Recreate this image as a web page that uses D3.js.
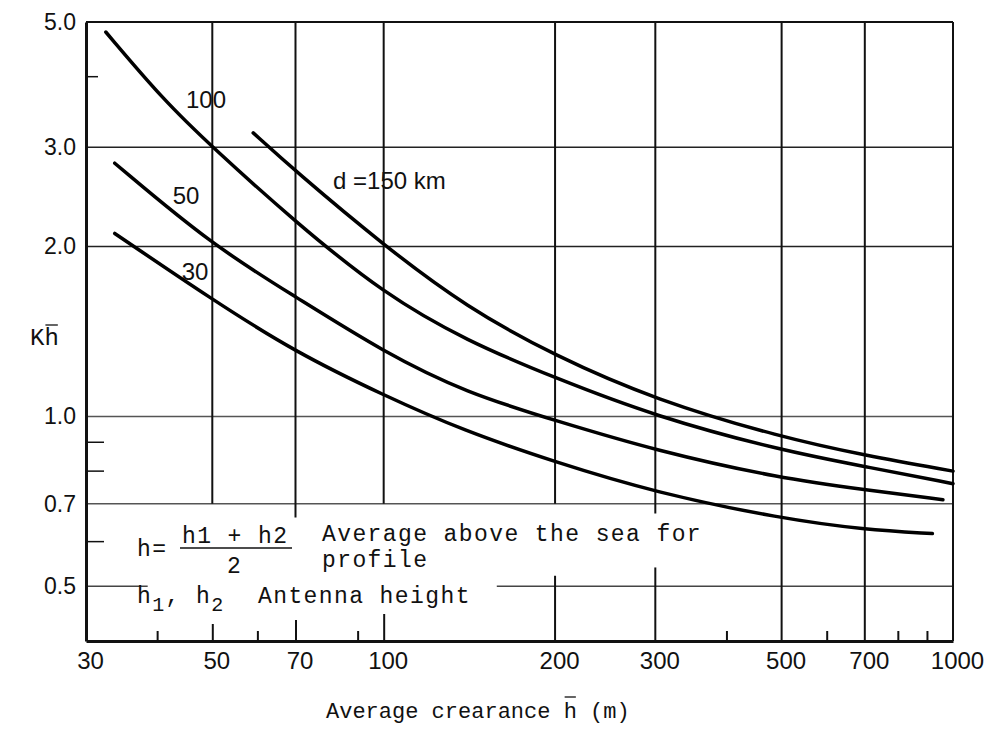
<!DOCTYPE html>
<html>
<head>
<meta charset="utf-8">
<script src="https://cdn.jsdelivr.net/npm/d3@7"></script>
<style>
  body { margin: 0; background: #fff; }
  .mono { font-family: "Liberation Mono", "Courier New", monospace; fill: #111; }
  .sans { font-family: "Liberation Sans", Arial, sans-serif; fill: #111; }
</style>
</head>
<body>
<div id="chart"></div>
<script>
// distance curves d = 30, 50, 100, 150 km : [clearance m, K]
const curve30 = [[33.7, 2.11], [50, 1.61], [70, 1.30], [100, 1.09], [138, 0.944], [200, 0.83], [300, 0.733], [500, 0.659], [700, 0.63], [920, 0.62]];
const curve50 = [[33.7, 2.81], [50, 2.01], [70, 1.63], [100, 1.30], [140, 1.10], [200, 0.984], [300, 0.87], [500, 0.776], [700, 0.742], [960, 0.712]];
const curve100 = [[32.5, 4.80], [41, 3.64], [50, 3.0], [70, 2.21], [100, 1.65], [140, 1.36], [200, 1.17], [300, 1.0], [500, 0.87], [700, 0.815], [1000, 0.76]];
const curve150 = [[59, 3.18], [70, 2.72], [100, 2.01], [140, 1.56], [200, 1.28], [300, 1.07], [500, 0.918], [700, 0.853], [1000, 0.80]];

const xTickLabels = [30, 50, 70, 100, 200, 300, 500, 700, 1000];
const yTickLabels = [5.0, 3.0, 2.0, 1.0, 0.7, 0.5];
const yGrid = [3.0, 2.0, 1.0, 0.7];
const yMinor = [4.0, 0.9, 0.8, 0.6];
const xMinor = [40, 60, 90, 400, 600, 800, 900];

// vertical grid segments [x, yFrom, yTo] (broken where the notes sit)
const xGrid = [
  [50, 5.0, 0.7], [70, 5.0, 0.662], [100, 5.0, 0.7],
  [200, 5.0, 0.7], [200, 0.522, 0.4],
  [300, 5.0, 0.673], [300, 0.54, 0.4],
  [500, 5.0, 0.4], [700, 5.0, 0.4]
];
// 0.5 line is interrupted by the antenna note
const halfLine = [[30, 38.5], [158, 1000]];

const width = 985, height = 731;
const svg = d3.select('#chart').append('svg')
  .attr('width', width)
  .attr('height', height);

const x = d3.scaleLog().domain([30, 1000]).range([86, 953]);
const y = d3.scaleLog().domain([0.4, 5.0]).range([641, 22]);

// horizontal grid
svg.append('g').selectAll('line')
  .data(yGrid)
  .enter().append('line')
  .attr('x1', x(30)).attr('x2', x(1000))
  .attr('y1', d => y(d)).attr('y2', d => y(d))
  .attr('stroke', d => d < 1.5 ? '#555' : '#222')
  .attr('stroke-width', 1.5);

svg.append('g').selectAll('line')
  .data(halfLine)
  .enter().append('line')
  .attr('x1', d => x(d[0])).attr('x2', d => x(d[1]))
  .attr('y1', y(0.5)).attr('y2', y(0.5))
  .attr('stroke', '#444')
  .attr('stroke-width', 1.5);

// vertical grid
svg.append('g').selectAll('line')
  .data(xGrid)
  .enter().append('line')
  .attr('x1', d => x(d[0])).attr('x2', d => x(d[0]))
  .attr('y1', d => y(d[1])).attr('y2', d => y(d[2]))
  .attr('stroke', '#111')
  .attr('stroke-width', 2);

// frame
svg.append('line').attr('x1', x(30)).attr('x2', x(1000)).attr('y1', y(5)).attr('y2', y(5))
  .attr('stroke', '#111').attr('stroke-width', 2);
svg.append('line').attr('x1', x(1000)).attr('x2', x(1000)).attr('y1', y(5)).attr('y2', y(0.4))
  .attr('stroke', '#111').attr('stroke-width', 2);

// bottom axis: ticks pointing up into the plot
const majorLen = { 50: 17, 70: 21, 100: 27 };
const bottomTicks = svg.append('g')
  .attr('transform', `translate(0,${y(0.4)})`)
  .call(d3.axisBottom(x).tickValues(xMinor.concat([50, 70, 100])).tickFormat('').tickSizeOuter(0));
bottomTicks.selectAll('.tick line')
  .attr('y2', d => -(majorLen[d] || 10))
  .attr('stroke', '#111')
  .attr('stroke-width', 2);
bottomTicks.select('.domain').attr('stroke', '#111').attr('stroke-width', 3);

const bottomLabels = svg.append('g')
  .attr('transform', `translate(4,${y(0.4)})`)
  .call(d3.axisBottom(x).tickValues(xTickLabels).tickFormat(d3.format('d')).tickSize(0).tickPadding(11));
bottomLabels.select('.domain').remove();
bottomLabels.selectAll('text')
  .attr('class', 'sans')
  .style('font-size', '24px')
  .attr('fill', '#111');

// left axis
const leftAxis = svg.append('g')
  .attr('transform', `translate(${x(30)},0)`)
  .call(d3.axisLeft(y).tickValues(yTickLabels).tickFormat(d3.format('.1f')).tickSize(0).tickPadding(10));
leftAxis.select('.domain').attr('stroke', '#111').attr('stroke-width', 3);
leftAxis.selectAll('text')
  .attr('class', 'sans')
  .style('font-size', '23px')
  .attr('fill', '#111');

svg.append('g').selectAll('line')
  .data(yMinor)
  .enter().append('line')
  .attr('x1', x(30)).attr('x2', d => x(30) + (d > 3 ? 12 : 18))
  .attr('y1', d => y(d)).attr('y2', d => y(d))
  .attr('stroke', '#111')
  .attr('stroke-width', 1.5);

// curves
const line = d3.line()
  .x(d => x(d[0]))
  .y(d => y(d[1]))
  .curve(d3.curveBasis);

svg.append('g').selectAll('path')
  .data([curve30, curve50, curve100, curve150])
  .enter().append('path')
  .attr('d', line)
  .attr('fill', 'none')
  .attr('stroke', '#000')
  .attr('stroke-width', 3.5)
  .attr('stroke-linecap', 'round');

// curve labels
const curveLabels = [
  { text: '100', x: 206, y: 108 },
  { text: '50', x: 186, y: 204 },
  { text: '30', x: 195, y: 280 },
  { text: 'd =150 km', x: 333, y: 189, anchor: 'start' }
];
svg.append('g').selectAll('text')
  .data(curveLabels)
  .enter().append('text')
  .attr('class', 'sans')
  .attr('x', d => d.x)
  .attr('y', d => d.y)
  .attr('text-anchor', d => d.anchor || 'middle')
  .style('font-size', '24px')
  .text(d => d.text);

// notes
const notes = svg.append('g')
  .attr('class', 'mono')
  .style('font-size', '23px')
  .attr('letter-spacing', 1.4);

notes.append('text').attr('x', 137).attr('y', 556).text('h=');
notes.append('text').attr('x', 182).attr('y', 543).text('h1 + h2');
notes.append('line').attr('x1', 180).attr('x2', 292).attr('y1', 548).attr('y2', 548)
  .attr('stroke', '#111').attr('stroke-width', 1.5);
notes.append('text').attr('x', 227).attr('y', 573).text('2');
notes.append('text').attr('x', 322).attr('y', 541).text('Average above the sea for');
notes.append('text').attr('x', 322).attr('y', 567).text('profile');

const ant = notes.append('text').attr('x', 137).attr('y', 603);
ant.append('tspan').text('h');
ant.append('tspan').attr('dy', 8).style('font-size', '20px').text('1');
ant.append('tspan').attr('dy', -8).text(', h');
ant.append('tspan').attr('dy', 8).style('font-size', '20px').text('2');
notes.append('text').attr('x', 258).attr('y', 603).text('Antenna height');

// y title  K h-bar
const yTitle = svg.append('text').attr('class', 'mono').attr('x', 30).attr('y', 345)
  .style('font-size', '24px').text('Kh');
const kw = yTitle.node().getSubStringLength(0, 1);
const hw = yTitle.node().getSubStringLength(1, 1);
svg.append('line').attr('x1', 30 + kw + 1).attr('x2', 30 + kw + hw - 1).attr('y1', 325).attr('y2', 325)
  .attr('stroke', '#111').attr('stroke-width', 1.3);

// x title with h-bar
const title = svg.append('text').attr('class', 'mono')
  .attr('x', 326).attr('y', 718)
  .style('font-size', '22px')
  .text('Average crearance h (m)');
const before = title.node().getSubStringLength(0, 18);
const hWidth = title.node().getSubStringLength(18, 1);
svg.append('line').attr('x1', 326 + before + 1).attr('x2', 326 + before + hWidth - 1)
  .attr('y1', 697).attr('y2', 697)
  .attr('stroke', '#111').attr('stroke-width', 1.3);
</script>
</body>
</html>
